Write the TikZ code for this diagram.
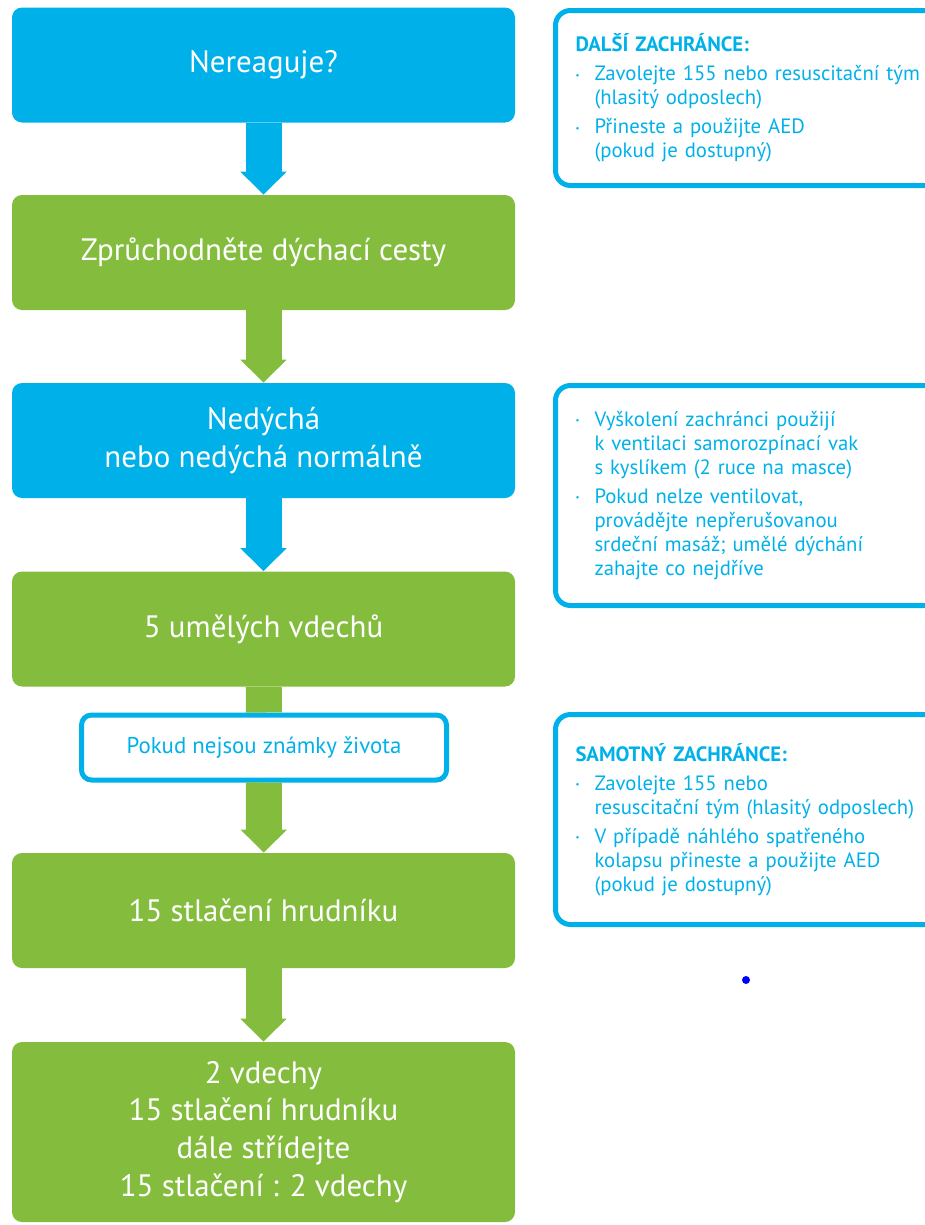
\documentclass[tikz,border=0pt]{standalone}
\usepackage{fontspec}
\setmainfont{PT Sans}
\usetikzlibrary{arrows.meta}

\definecolor{cprblue}{HTML}{00B1E9}
\definecolor{cprgreen}{HTML}{84BD3E}
\newcommand{\bul}{\makebox[0.38cm][l]{\raisebox{0.25ex}{\tiny\textbullet}}}
\newcommand{\ind}{\hspace*{0.38cm}}

\begin{document}
\begin{tikzpicture}[
	mainbox/.style={fill=cprblue, rounded corners=0.2cm, minimum width=10.06cm, minimum height=2.3cm, text=white, align=center, font=\fontsize{17.6}{21.5}\selectfont},
	greenbox/.style={mainbox, fill=cprgreen},
	infobox/.style={draw=cprblue, line width=0.1cm, rounded corners=0.3cm, text=cprblue, text width=6.9cm, inner xsep=0.4cm, align=left, font=\fontsize{11.8}{13.6}\selectfont},
	bluearrow/.style={cprblue, line width=0.72cm, -{Triangle[width=0.9cm,length=0.46cm]}},
	greenarrow/.style={bluearrow, cprgreen},
	]
	\clip (0,0) rectangle (18.5,-24.5);
	
	\node[mainbox] (n1) at (5.27,-1.3) {Nereaguje?};
	\node[greenbox] (n2) at (5.27,-5.05) {Zprůchodněte dýchací cesty};
	\node[mainbox] (n3) at (5.27,-8.81) {Nedýchá\\nebo nedýchá normálně};
	\node[greenbox] (n4) at (5.27,-12.58) {5 umělých vdechů};
	\node[draw=cprblue, fill=white, line width=0.1cm, rounded corners=0.2cm, minimum width=7.3cm, minimum height=1.3cm, text=cprblue, font=\fontsize{13}{15}\selectfont] (cond) at (5.28,-14.95) {Pokud nejsou známky života};
	\node[greenbox] (n5) at (5.27,-18.21) {15 stlačení hrudníku};
	\node[greenbox, minimum height=3.6cm] (n6) at (5.27,-22.64) {2 vdechy\\15 stlačení hrudníku\\dále střídejte\\15 stlačení : 2 vdechy};
	
	\node[infobox, anchor=west, minimum height=3.5cm] (r1) at (11.06,-1.96) {\textbf{DALŠÍ ZACHRÁNCE:}\\[3pt]
		\bul Zavolejte 155 nebo resuscitační tým\\\ind (hlasitý odposlech)\\[3pt]
		\bul Přineste a použijte AED\\\ind (pokud je dostupný)};
	\node[infobox, anchor=west, minimum height=4.4cm] (r2) at (11.06,-9.91) {\bul Vyškolení zachránci použijí\\\ind k ventilaci samorozpínací vak\\\ind s kyslíkem (2 ruce na masce)\\[3pt]
		\bul Pokud nelze ventilovat,\\\ind provádějte nepřerušovanou\\\ind srdeční masáž; umělé dýchání\\\ind zahajte co nejdříve};
	\node[infobox, anchor=west, minimum height=4.2cm] (r3) at (11.06,-16.39) {\textbf{SAMOTNÝ ZACHRÁNCE:}\\[3pt]
		\bul Zavolejte 155 nebo\\\ind resuscitační tým (hlasitý odposlech)\\[3pt]
		\bul V případě náhlého spatřeného\\\ind kolapsu přineste a použijte AED\\\ind (pokud je dostupný)};
	
	\draw[bluearrow] (n1) -- (n2);
	\draw[greenarrow] (n2) -- (n3);
	\draw[bluearrow] (n3) -- (n4);
	\draw[cprgreen, line width=0.72cm] (n4) -- (cond);
	\draw[greenarrow] (cond) -- (n5);
	\draw[greenarrow] (n5) -- (n6);
	
	\fill[blue] (14.92,-19.6) circle (0.08);
\end{tikzpicture}
\end{document}
